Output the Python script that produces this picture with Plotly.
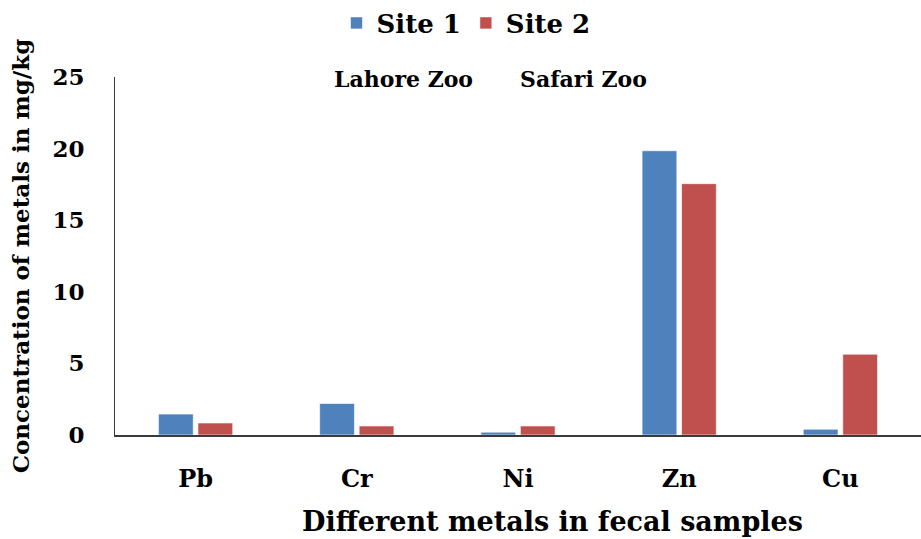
import plotly.graph_objects as go

metals = ["Pb", "Cr", "Ni", "Zn", "Cu"]
site1 = [1.46, 2.2, 0.2, 19.85, 0.4]
site2 = [0.84, 0.63, 0.63, 17.55, 5.64]
y_ticks = [0, 5, 10, 15, 20, 25]

SERIF = "DejaVu Serif, Liberation Serif, serif"

fig = go.Figure()
fig.add_trace(go.Bar(x=metals, y=site1, name="Site 1",
                     marker=dict(color="#4F81BD", line=dict(color="rgba(255,255,255,0.6)", width=1))))
fig.add_trace(go.Bar(x=metals, y=site2, name="Site 2",
                     marker=dict(color="#C0504D", line=dict(color="rgba(255,255,255,0.6)", width=1))))

fig.update_layout(
    width=921, height=539,
    margin=dict(l=115, r=0, t=77, b=104),
    paper_bgcolor="white", plot_bgcolor="white",
    barmode="group", bargap=0.51, bargroupgap=0.12,
    font=dict(family=SERIF, color="black"),
    legend=dict(orientation="h", x=466 / 921, xanchor="center",
                xref="container", yref="container",
                y=1 - 23 / 539, yanchor="middle",
                font=dict(family=SERIF, size=26, weight="bold"),
                itemwidth=30, tracegroupgap=0),
    showlegend=True,
)

fig.update_xaxes(
    showline=True, linecolor="#3a3a3a", linewidth=2,
    ticks="", showgrid=False,
    tickfont=dict(family=SERIF, size=24, weight="bold"),
    ticklabelstandoff=21,
)
fig.update_yaxes(
    range=[0, 25], tickvals=y_ticks,
    showline=True, linecolor="#3a3a3a", linewidth=1,
    ticks="", showgrid=False, zeroline=False,
    tickfont=dict(family=SERIF, size=23, weight="bold"),
    ticklabelstandoff=25,
    title=dict(text="Concentration of metals in mg/kg",
               font=dict(family=SERIF, size=23, weight="bold"), standoff=16),
)

# x-axis caption
fig.add_annotation(text="Different metals in fecal samples", xref="paper", yref="paper",
                   x=(552 - 115) / 806, y=-(521 - 435) / 358, xanchor="center", yanchor="middle",
                   showarrow=False, font=dict(family=SERIF, size=27, weight="bold"))

# site names
fig.add_annotation(text="Lahore Zoo", xref="paper", yref="paper",
                   x=(403 - 115) / 806, y=1 - (79 - 77) / 358, xanchor="center", yanchor="middle",
                   showarrow=False, font=dict(family=SERIF, size=22, weight="bold"))
fig.add_annotation(text="Safari Zoo", xref="paper", yref="paper",
                   x=(583 - 115) / 806, y=1 - (79 - 77) / 358, xanchor="center", yanchor="middle",
                   showarrow=False, font=dict(family=SERIF, size=22, weight="bold"))

fig.write_html("out.html")
